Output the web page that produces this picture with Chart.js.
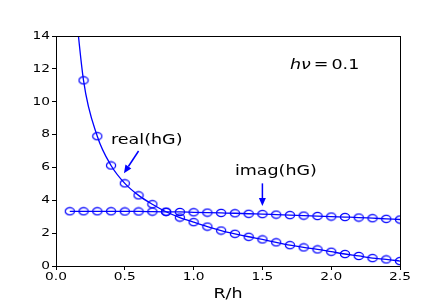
<!DOCTYPE html>
<html>
<head>
<meta charset="utf-8">
<script src="https://cdn.jsdelivr.net/npm/chart.js@4/dist/chart.umd.min.js"></script>
<style>
  html, body { margin: 0; padding: 0; background: #fff; }
  #wrap { width: 445px; height: 306px; }
</style>
</head>
<body>
<div id="wrap"><canvas id="c" width="445" height="306"></canvas></div>
<script>
// R/h sample points
const rh = [0.1, 0.2, 0.3, 0.4, 0.5, 0.6, 0.7, 0.8, 0.9, 1.0, 1.1, 1.2, 1.3,
            1.4, 1.5, 1.6, 1.7, 1.8, 1.9, 2.0, 2.1, 2.2, 2.3, 2.4, 2.5];
const realHG = [19.5, 11.3, 7.9, 6.12, 5.03, 4.3, 3.76, 3.3, 2.95, 2.67, 2.4, 2.16, 1.96,
                1.78, 1.62, 1.44, 1.27, 1.13, 1.01, 0.87, 0.73, 0.61, 0.48, 0.4, 0.3];
const imagHG = [3.33, 3.33, 3.33, 3.33, 3.32, 3.32, 3.31, 3.3, 3.29, 3.27, 3.25, 3.23, 3.21,
                3.18, 3.16, 3.13, 3.1, 3.07, 3.04, 3.01, 2.98, 2.95, 2.91, 2.87, 2.83];
const xTicks = [0.0, 0.5, 1.0, 1.5, 2.0, 2.5];
const yTicks = [0, 2, 4, 6, 8, 10, 12, 14];

// annotations in data coords: label, text pos, arrow start, arrow tip
const notes = [
    { text: 'real(hG)', tx: 0.40, ty: 7.64, ax: 0.6, ay: 7.0, bx: 0.494, by: 5.65 },
    { text: 'imag(hG)', tx: 1.30, ty: 5.76, ax: 1.5, ay: 5.03, bx: 1.5, by: 3.65 },
];

const BLUE = '#0000ff';
const FONT = '"DejaVu Sans", sans-serif';
const SX = 1.25; // the original figure is stretched sideways

// text drawn with horizontal stretch, anchored at x by align
function stext(ctx, str, x, y, align, font) {
    ctx.font = font;
    const w = ctx.measureText(str).width * SX;
    let left = x;
    if (align === 'center') left = x - w / 2;
    else if (align === 'right') left = x - w;
    ctx.save();
    ctx.translate(left, y);
    ctx.scale(SX, 1);
    ctx.textAlign = 'left';
    ctx.fillText(str, 0, 0);
    ctx.restore();
    return w;
}

// open ellipse marker
const marker = document.createElement('canvas');
marker.width = 12; marker.height = 10;
(() => {
    const m = marker.getContext('2d');
    m.strokeStyle = BLUE;
    m.lineWidth = 1.2;
    m.beginPath();
    m.ellipse(6, 5, 4.6, 3.6, 0, 0, Math.PI * 2);
    m.stroke();
})();

const frame = {
    id: 'frame',
    afterDatasetsDraw(chart) {
        const { ctx, chartArea: a, scales } = chart;
        ctx.save();
        ctx.strokeStyle = '#000';
        ctx.lineWidth = 1;
        ctx.strokeRect(Math.round(a.left) + 0.5, Math.round(a.top) + 0.5,
                       Math.round(a.right - a.left), Math.round(a.bottom - a.top));

        ctx.textBaseline = 'middle';
        ctx.fillStyle = '#000';

        // tick labels
        xTicks.forEach(v => stext(ctx, v.toFixed(1), scales.x.getPixelForValue(v), a.bottom + 11, 'center', '11px ' + FONT));
        yTicks.forEach(v => stext(ctx, String(v), a.left - 6, scales.y.getPixelForValue(v), 'right', '11px ' + FONT));
        stext(ctx, 'R/h', (a.left + a.right) / 2, a.bottom + 28, 'center', '14px ' + FONT);

        // arrows + labels
        notes.forEach(n => {
            const x1 = scales.x.getPixelForValue(n.ax), y1 = scales.y.getPixelForValue(n.ay);
            const x2 = scales.x.getPixelForValue(n.bx), y2 = scales.y.getPixelForValue(n.by);
            const ang = Math.atan2(y2 - y1, x2 - x1);
            const hl = 8, hw = 3.5;
            const bx = x2 - hl * Math.cos(ang), by = y2 - hl * Math.sin(ang);
            ctx.strokeStyle = BLUE;
            ctx.lineWidth = 1.5;
            ctx.beginPath();
            ctx.moveTo(x1, y1);
            ctx.lineTo(bx, by);
            ctx.stroke();
            ctx.fillStyle = BLUE;
            ctx.beginPath();
            ctx.moveTo(x2, y2);
            ctx.lineTo(bx + hw * Math.sin(ang), by - hw * Math.cos(ang));
            ctx.lineTo(bx - hw * Math.sin(ang), by + hw * Math.cos(ang));
            ctx.closePath();
            ctx.fill();
            ctx.fillStyle = '#000';
            stext(ctx, n.text, scales.x.getPixelForValue(n.tx), scales.y.getPixelForValue(n.ty), 'left', '14px ' + FONT);
        });

        // h nu = 0.1
        let px = scales.x.getPixelForValue(1.70);
        const py = scales.y.getPixelForValue(12.24);
        px += stext(ctx, 'hν', px, py, 'left', 'italic 14px ' + FONT) + 3;
        px += stext(ctx, '=', px, py, 'left', '14px ' + FONT) + 3;
        stext(ctx, '0.1', px, py, 'left', '14px ' + FONT);
        ctx.restore();
    }
};

function series(values) {
    return {
        data: rh.map((x, i) => ({ x, y: values[i] })),
        borderColor: BLUE,
        borderWidth: 1.3,
        pointRadius: 5,
        pointStyle: marker,
        cubicInterpolationMode: 'monotone',
        fill: false,
    };
}

new Chart(document.getElementById('c'), {
    type: 'line',
    data: { datasets: [series(realHG), series(imagHG)] },
    options: {
        responsive: false,
        animation: false,
        events: [],
        layout: { padding: { top: 36, right: 45, left: 0, bottom: 0 } },
        plugins: { legend: { display: false }, tooltip: { enabled: false } },
        scales: {
            x: {
                type: 'linear',
                min: 0, max: 2.5,
                afterBuildTicks: s => { s.ticks = xTicks.map(v => ({ value: v })); },
                afterFit: s => { s.height = 40; },
                ticks: { display: false },
                grid: { drawOnChartArea: false, drawTicks: true, tickLength: 4, color: '#000' },
                border: { display: true, color: '#000' },
            },
            y: {
                type: 'linear',
                min: 0, max: 14,
                afterBuildTicks: s => { s.ticks = yTicks.map(v => ({ value: v })); },
                afterFit: s => { s.width = 56; },
                ticks: { display: false },
                grid: { drawOnChartArea: false, drawTicks: true, tickLength: 4, color: '#000' },
                border: { display: true, color: '#000' },
            },
        },
    },
    plugins: [frame],
});
</script>
</body>
</html>
